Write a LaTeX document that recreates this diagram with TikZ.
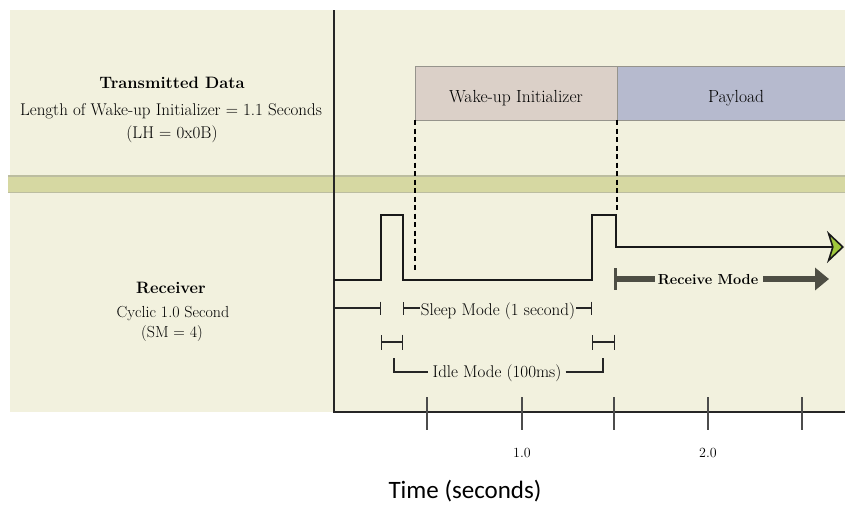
\documentclass[tikz,border=0pt]{standalone}
\usepackage{fontspec}
\newfontfamily\axisfont{Carlito}
\usetikzlibrary{arrows.meta}
\definecolor{cream}{RGB}{242,241,222}
\definecolor{bandmid}{RGB}{214,216,162}
\definecolor{bandedge}{RGB}{188,189,160}
\definecolor{wakecol}{RGB}{219,208,200}
\definecolor{paycol}{RGB}{182,186,206}
\definecolor{boxedge}{RGB}{150,148,140}
\definecolor{rxgrey}{RGB}{78,78,68}
\definecolor{arrowgreen}{RGB}{160,200,60}
\tikzset{
  sig/.style={line width=2.8pt, line join=miter, draw=black!90},
  dimline/.style={line width=1.3pt, draw=black!85},
  txt/.style={font=\fontsize{17}{19}\selectfont, inner sep=0pt, anchor=base},
  head/.style={font=\fontsize{16.5}{18}\selectfont\bfseries, inner sep=0pt, anchor=base},
  seg/.style={draw=boxedge, line width=0.8pt, minimum height=54pt, inner sep=0pt},
  tick/.style={line width=1.2pt, draw=black!70},
  rx/.style={draw=rxgrey, line width=6pt},
}
\begin{document}
\begin{tikzpicture}[x=1pt,y=-1pt]
\useasboundingbox (0,0) rectangle (845,507);
% background panel and separating band
\fill[cream] (10,10) rectangle (845,412);
\fill[bandmid] (8,175) rectangle (845,193);
\draw[bandedge, line width=2pt] (8,176) -- (845,176);
\draw[bandedge, line width=1.5pt] (8,192.5) -- (845,192.5);

% axes
\coordinate (ytop) at (334,10);
\coordinate (orig) at (334,412);
\coordinate (xend) at (845,412);
\draw[line width=2.2pt, black!85] (ytop) -- (orig) -- (xend);
\foreach \tx [count=\i] in {427,522,614,708,802} {
  \coordinate (tA\i) at (\tx,397);
  \coordinate (tB\i) at (\tx,430);
  \draw[tick] (tA\i) -- (tB\i);
}
\node[font=\fontsize{14}{16}\selectfont, inner sep=0pt, anchor=base] (l1) at (522,457) {1.0};
\node[font=\fontsize{14}{16}\selectfont, inner sep=0pt, anchor=base] (l2) at (708,457) {2.0};
\node[font=\axisfont\fontsize{25}{29}\selectfont, inner sep=0pt, anchor=base] (tlabel) at (465,498) {Time (seconds)};

% left-hand captions
\node[head] (tdh) at (172,88) {Transmitted Data};
\node[txt] (tdl) at (171,115) {Length of Wake-up Initializer = 1.1 Seconds};
\node[txt] (tdc) at (172,138) {(LH = 0x0B)};
\node[head] (rxh) at (171,293) {Receiver};
\node[txt, font=\fontsize{16}{18}\selectfont] (rxl) at (173,317) {Cyclic 1.0 Second};
\node[txt, font=\fontsize{16}{18}\selectfont] (rxc) at (172,337) {(SM = 4)};

% transmitted frame
\node[seg, fill=wakecol, minimum width=202pt] (wake) at (516,93) {};
\node[seg, fill=paycol, minimum width=230pt] (pay) at (732,93) {};
\node[txt, font=\fontsize{17.5}{19}\selectfont] at (516,102) {Wake-up Initializer};
\node[txt, font=\fontsize{17.5}{19}\selectfont] at (736,102) {Payload};

% receiver signal
\coordinate (s0) at (334,280);
\coordinate (s1) at (381,280);
\coordinate (s2) at (381,215);
\coordinate (s3) at (403,215);
\coordinate (s4) at (403,280);
\coordinate (s5) at (592,280);
\coordinate (s6) at (592,215);
\coordinate (s7) at (616,215);
\coordinate (s8) at (616,247);
\coordinate (s9) at (844,247);
\draw[sig, -{Stealth[length=17pt,width=32pt,inset=5pt,fill=arrowgreen,line width=1.6pt]}]
  (s0) -- (s1) -- (s2) -- (s3) -- (s4) -- (s5) -- (s6) -- (s7) -- (s8) -- (s9);

% projections of the frame edges
\coordinate (d1a) at (415,120);
\coordinate (d1b) at (415,272);
\coordinate (d2a) at (617,120);
\coordinate (d2b) at (617,212);
\draw[line width=1.6pt, dashed, dash pattern=on 5pt off 3.5pt] (d1a) -- (d1b);
\draw[line width=1.6pt, dashed, dash pattern=on 5pt off 3.5pt] (d2a) -- (d2b);

% receive mode
\coordinate (rm0) at (615,279);
\coordinate (rm0t) at (615,268);
\coordinate (rm0b) at (615,290);
\coordinate (rm1) at (655,279);
\coordinate (rm2) at (763,279);
\coordinate (rm3) at (829,279);
\draw[rxgrey, line width=3pt] (rm0t) -- (rm0b);
\draw[rx] (rm0) -- (rm1);
\node[txt, font=\fontsize{14.5}{16}\selectfont\bfseries] (rmt) at (708,284) {Receive Mode};
\draw[rx, -{Triangle[length=14pt,width=22pt]}] (rm2) -- (rm3);

% sleep mode dimension
\coordinate (a0) at (334,308);
\coordinate (a1) at (381,308);
\draw[dimline, -{Bar[width=13pt]}] (a0) -- (a1);
\node[txt] (sleep) at (498,315) {Sleep Mode (1 second)};
\coordinate (b0) at (403,308);
\coordinate (b1) at (592,308);
\draw[dimline, {Bar[width=13pt]}-] (b0) -- ([xshift=-1pt]sleep.west |- b0);
\draw[dimline, -{Bar[width=13pt]}] ([xshift=1pt]sleep.east |- b1) -- (b1);

% idle mode dimensions
\coordinate (c0) at (381,342);
\coordinate (c1) at (403,342);
\coordinate (c2) at (592,342);
\coordinate (c3) at (615,342);
\draw[dimline, {Bar[width=15pt]}-{Bar[width=15pt]}] (c0) -- (c1);
\draw[dimline, {Bar[width=15pt]}-{Bar[width=15pt]}] (c2) -- (c3);
\node[txt] (idle) at (497,377) {Idle Mode (100ms)};
\coordinate (e0) at (394,358);
\coordinate (e1) at (394,372);
\coordinate (e2) at (603,372);
\coordinate (e3) at (603,358);
\draw[dimline] (e0) -- (e1) -- ([xshift=-4pt]idle.west |- e1);
\draw[dimline] ([xshift=4pt]idle.east |- e2) -- (e2) -- (e3);
\end{tikzpicture}
\end{document}
